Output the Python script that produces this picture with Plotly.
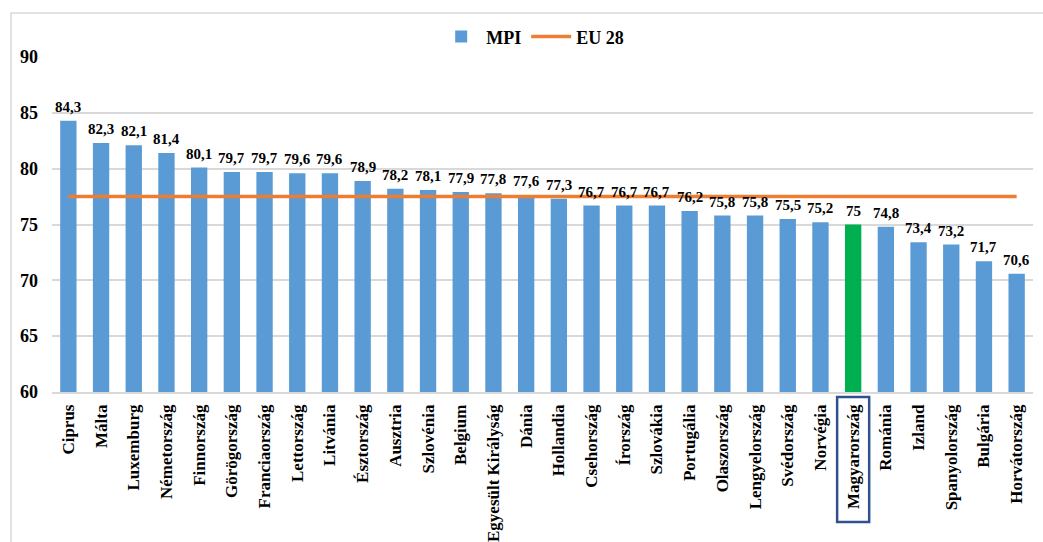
import plotly.graph_objects as go

countries = [
    "Ciprus", "Málta", "Luxemburg", "Németország", "Finnország", "Görögország",
    "Franciaország", "Lettország", "Litvánia", "Észtország", "Ausztria", "Szlovénia",
    "Belgium", "Egyesült Királyság", "Dánia", "Hollandia", "Csehország", "Írország",
    "Szlovákia", "Portugália", "Olaszország", "Lengyelország", "Svédország", "Norvégia",
    "Magyarország", "Románia", "Izland", "Spanyolország", "Bulgária", "Horvátország",
]
mpi = [
    84.3, 82.3, 82.1, 81.4, 80.1, 79.7,
    79.7, 79.6, 79.6, 78.9, 78.2, 78.1,
    77.9, 77.8, 77.6, 77.3, 76.7, 76.7,
    76.7, 76.2, 75.8, 75.8, 75.5, 75.2,
    75.0, 74.8, 73.4, 73.2, 71.7, 70.6,
]
eu28 = 77.5
highlight = "Magyarország"
y_ticks = [60, 65, 70, 75, 80, 85, 90]

BLUE = "#5B9BD5"
ORANGE = "#ED7D31"
GREEN = "#00B050"
GRID = "#D9D9D9"
FONT = "Liberation Serif, Times New Roman, serif"

bar_colors = [GREEN if c == highlight else BLUE for c in countries]
labels = [f"{v:g}".replace(".", ",") for v in mpi]

fig = go.Figure()
fig.add_trace(go.Bar(
    x=countries, y=mpi, name="MPI",
    marker=dict(color=bar_colors, line=dict(width=0)),
))
fig.add_trace(go.Scatter(
    x=countries, y=[eu28] * len(countries), name="EU 28",
    mode="lines", line=dict(color=ORANGE, width=3.5),
))

# value labels above each bar
for c, v, t in zip(countries, mpi, labels):
    fig.add_annotation(x=c, y=v, text=t, showarrow=False, yanchor="bottom",
                       yshift=4, font=dict(family=FONT, size=15, color="black",
                                           weight="bold"))

# outer chart frame
fig.add_shape(type="rect", xref="paper", yref="paper",
              x0=-0.0418, x1=1.05, y0=-0.6, y1=1.131,
              line=dict(color=GRID, width=1.5), layer="below")

# box around the highlighted country label
idx = countries.index(highlight)
fig.add_shape(type="rect", xref="x", yref="paper",
              x0=idx - 0.49, x1=idx + 0.49, y0=-0.388, y1=-0.015,
              line=dict(color="#2F528F", width=2.5))

fig.update_layout(
    width=1043, height=542,
    margin=dict(l=52, r=10, t=57, b=150, autoexpand=False),
    paper_bgcolor="white", plot_bgcolor="white",
    bargap=0.5,
    showlegend=True,
    legend=dict(orientation="h", x=0.49, xanchor="center", y=1.06, yanchor="middle",
                font=dict(family=FONT, size=18, color="black", weight="bold"),
                itemwidth=40, bgcolor="rgba(0,0,0,0)"),
    font=dict(family=FONT, color="black"),
)
fig.update_yaxes(range=[60, 90], tickvals=y_ticks, showgrid=True, gridcolor=GRID,
                 gridwidth=1.5, zeroline=False, showline=False, ticks="",
                 automargin=False,
                 tickfont=dict(family=FONT, size=18, color="black", weight="bold"),
                 ticklabelstandoff=13)
fig.update_xaxes(tickangle=-90, showline=True, linecolor=GRID, linewidth=1.5, ticks="",
                 automargin=False,
                 tickfont=dict(family=FONT, size=17, color="black", weight="bold"),
                 ticklabelstandoff=4)

fig.write_html("out.html")
